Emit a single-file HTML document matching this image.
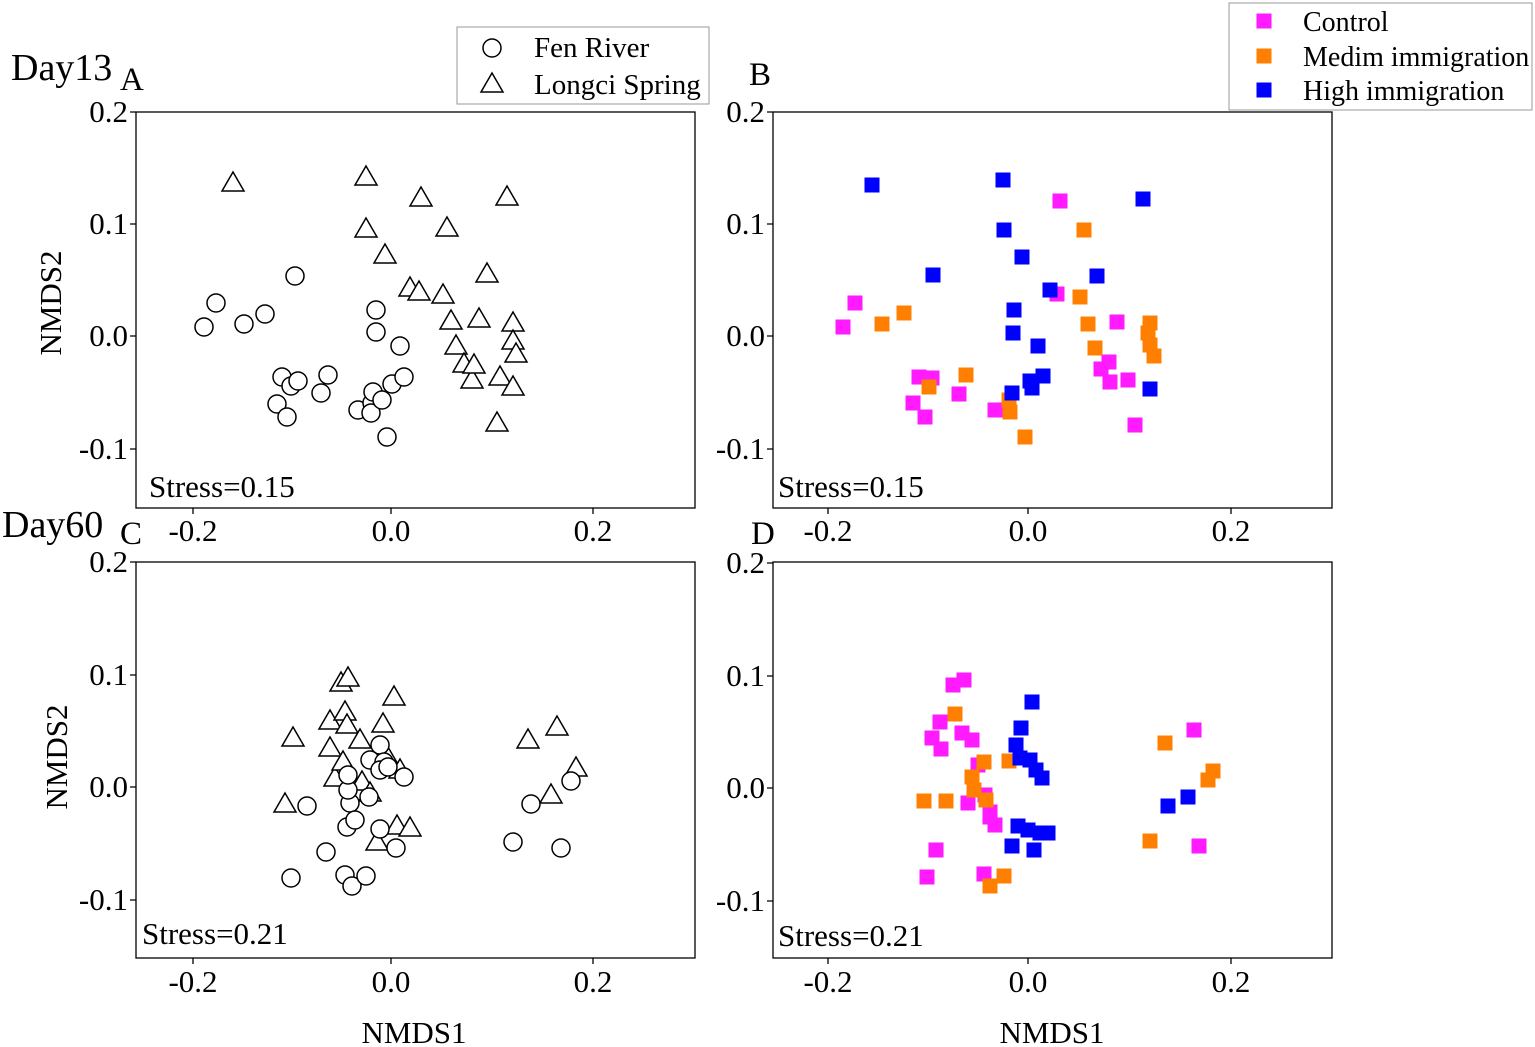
<!DOCTYPE html>
<html><head><meta charset="utf-8"><style>body{margin:0;background:#fff}svg{display:block}text{font-family:"Liberation Serif",serif;fill:#000}</style></head><body>
<svg width="1535" height="1047" viewBox="0 0 1535 1047" xmlns="http://www.w3.org/2000/svg">
<defs>
<circle id="c" r="9" fill="#fff" stroke="#000" stroke-width="1.5"/>
<path id="t" d="M0,-11 L11,8 L-11,8 Z" fill="#fff" stroke="#000" stroke-width="1.5"/>
<rect id="m" x="-7.5" y="-7.5" width="15" height="15" fill="#ff1aff"/>
<rect id="o" x="-7.5" y="-7.5" width="15" height="15" fill="#ff8000"/>
<rect id="b" x="-7.5" y="-7.5" width="15" height="15" fill="#0000ff"/>
</defs>
<g fill="none" stroke="#000" stroke-width="1.3">
<rect x="136" y="112" width="559" height="396"/>
<rect x="773" y="112" width="559" height="396"/>
<rect x="136" y="562" width="559" height="396"/>
<rect x="773" y="562" width="559" height="396"/>
<path d="M130,112H136M130,224H136M130,336H136M130,449H136M193,508V514M391,508V514M593,508V514
M767,112H773M767,224H773M767,336H773M767,449H773M828,508V514M1028,508V514M1231,508V514
M130,562H136M130,675H136M130,787H136M130,900H136M193,958V964M391,958V964M593,958V964
M767,563H773M767,676H773M767,788H773M767,901H773M828,958V964M1028,958V964M1231,958V964"/>
</g>
<g font-size="31" text-anchor="end">
<text x="128" y="122">0.2</text><text x="128" y="234">0.1</text><text x="128" y="346">0.0</text><text x="128" y="459">-0.1</text>
<text x="765" y="122">0.2</text><text x="765" y="234">0.1</text><text x="765" y="346">0.0</text><text x="765" y="459">-0.1</text>
<text x="128" y="572">0.2</text><text x="128" y="685">0.1</text><text x="128" y="797">0.0</text><text x="128" y="910">-0.1</text>
<text x="765" y="573">0.2</text><text x="765" y="686">0.1</text><text x="765" y="798">0.0</text><text x="765" y="911">-0.1</text>
</g>
<g font-size="31" text-anchor="middle">
<text x="193" y="541">-0.2</text><text x="391" y="541">0.0</text><text x="593" y="541">0.2</text>
<text x="828" y="541">-0.2</text><text x="1028" y="541">0.0</text><text x="1231" y="541">0.2</text>
<text x="193" y="992">-0.2</text><text x="391" y="992">0.0</text><text x="593" y="992">0.2</text>
<text x="828" y="992">-0.2</text><text x="1028" y="992">0.0</text><text x="1231" y="992">0.2</text>
<text x="414" y="1043">NMDS1</text><text x="1052" y="1043">NMDS1</text>
<text transform="translate(61,303) rotate(-90)">NMDS2</text>
<text transform="translate(67,757) rotate(-90)">NMDS2</text>
</g>
<g font-size="31">
<text x="149" y="497">Stress=0.15</text><text x="778" y="497">Stress=0.15</text>
<text x="142" y="944">Stress=0.21</text><text x="778" y="946">Stress=0.21</text>
<text x="11" y="80" font-size="38">Day13</text><text x="120" y="90" font-size="33">A</text>
<text x="749" y="85" font-size="33">B</text>
<text x="2" y="537" font-size="38">Day60</text><text x="120" y="544" font-size="33">C</text>
<text x="751" y="544" font-size="33">D</text>
</g>
<rect x="457" y="27" width="252" height="77" fill="#fff" stroke="#999" stroke-width="1"/>
<use href="#c" x="492" y="48"/><use href="#t" x="492" y="84"/>
<text x="534" y="57" font-size="29">Fen River</text><text x="534" y="94" font-size="29">Longci Spring</text>
<rect x="1229" y="3" width="303" height="107" fill="#fff" stroke="#999" stroke-width="1"/>
<use href="#m" x="1264" y="21"/><use href="#o" x="1264" y="56"/><use href="#b" x="1264" y="90"/>
<text x="1303" y="31" font-size="28">Control</text><text x="1303" y="66" font-size="28">Medim immigration</text><text x="1303" y="100" font-size="28">High immigration</text>
<g>
<use href="#c" x="204" y="327"/><use href="#c" x="216" y="303"/><use href="#c" x="244" y="324"/><use href="#c" x="265" y="314"/><use href="#c" x="295" y="276"/><use href="#c" x="282" y="377"/><use href="#c" x="291" y="386"/><use href="#c" x="298" y="381"/><use href="#c" x="328" y="375"/><use href="#c" x="277" y="404"/><use href="#c" x="287" y="417"/><use href="#c" x="321" y="393"/><use href="#c" x="376" y="310"/><use href="#c" x="376" y="332"/><use href="#c" x="358" y="410"/><use href="#c" x="372" y="403"/><use href="#c" x="371" y="413"/><use href="#c" x="373" y="392"/><use href="#c" x="382" y="400"/><use href="#c" x="392" y="384"/><use href="#c" x="404" y="377"/><use href="#c" x="400" y="346"/><use href="#c" x="387" y="437"/>
<use href="#t" x="233" y="183"/><use href="#t" x="366" y="177"/><use href="#t" x="366" y="229"/><use href="#t" x="385" y="255"/><use href="#t" x="421" y="198"/><use href="#t" x="447" y="228"/><use href="#t" x="410" y="288"/><use href="#t" x="419" y="292"/><use href="#t" x="443" y="295"/><use href="#t" x="507" y="197"/><use href="#t" x="487" y="274"/><use href="#t" x="451" y="321"/><use href="#t" x="479" y="319"/><use href="#t" x="513" y="323"/><use href="#t" x="513" y="341"/><use href="#t" x="516" y="354"/><use href="#t" x="456" y="346"/><use href="#t" x="464" y="364"/><use href="#t" x="472" y="380"/><use href="#t" x="500" y="377"/><use href="#t" x="513" y="387"/><use href="#t" x="474" y="365"/><use href="#t" x="497" y="423"/>
</g>
<g>
<use href="#m" x="843" y="327"/><use href="#m" x="855" y="303"/><use href="#m" x="1060" y="201"/><use href="#m" x="1057" y="294"/><use href="#m" x="1117" y="322"/><use href="#m" x="1109" y="362"/><use href="#m" x="1101" y="369"/><use href="#m" x="1110" y="382"/><use href="#m" x="1128" y="380"/><use href="#m" x="1135" y="425"/><use href="#m" x="919" y="377"/><use href="#m" x="932" y="378"/><use href="#m" x="913" y="403"/><use href="#m" x="925" y="417"/><use href="#m" x="959" y="394"/><use href="#m" x="995" y="410"/>
<use href="#o" x="882" y="324"/><use href="#o" x="904" y="313"/><use href="#o" x="1084" y="230"/><use href="#o" x="1080" y="297"/><use href="#o" x="1088" y="324"/><use href="#o" x="1095" y="348"/><use href="#o" x="1150" y="323"/><use href="#o" x="1148" y="333"/><use href="#o" x="1150" y="345"/><use href="#o" x="1154" y="356"/><use href="#o" x="929" y="387"/><use href="#o" x="966" y="375"/><use href="#o" x="1009" y="400"/><use href="#o" x="1010" y="412"/><use href="#o" x="1025" y="437"/>
<use href="#b" x="872" y="185"/><use href="#b" x="1003" y="180"/><use href="#b" x="1004" y="230"/><use href="#b" x="933" y="275"/><use href="#b" x="1022" y="257"/><use href="#b" x="1050" y="290"/><use href="#b" x="1097" y="276"/><use href="#b" x="1143" y="199"/><use href="#b" x="1014" y="310"/><use href="#b" x="1013" y="333"/><use href="#b" x="1038" y="346"/><use href="#b" x="1043" y="376"/><use href="#b" x="1030" y="381"/><use href="#b" x="1032" y="388"/><use href="#b" x="1012" y="393"/><use href="#b" x="1150" y="389"/>
</g>
<g>
<use href="#t" x="293" y="738"/><use href="#t" x="285" y="804"/><use href="#t" x="330" y="721"/><use href="#t" x="330" y="748"/><use href="#t" x="335" y="778"/><use href="#t" x="341" y="683"/><use href="#t" x="348" y="678"/><use href="#t" x="345" y="712"/><use href="#t" x="347" y="725"/><use href="#t" x="360" y="740"/><use href="#t" x="343" y="762"/><use href="#t" x="362" y="782"/><use href="#t" x="370" y="793"/><use href="#t" x="383" y="724"/><use href="#t" x="394" y="697"/><use href="#t" x="397" y="826"/><use href="#t" x="410" y="828"/><use href="#t" x="377" y="842"/><use href="#t" x="388" y="758"/><use href="#t" x="400" y="770"/><use href="#t" x="528" y="740"/><use href="#t" x="557" y="727"/><use href="#t" x="576" y="768"/><use href="#t" x="551" y="795"/>
<use href="#c" x="291" y="878"/><use href="#c" x="307" y="806"/><use href="#c" x="326" y="852"/><use href="#c" x="345" y="875"/><use href="#c" x="352" y="886"/><use href="#c" x="366" y="876"/><use href="#c" x="350" y="803"/><use href="#c" x="348" y="790"/><use href="#c" x="347" y="827"/><use href="#c" x="355" y="820"/><use href="#c" x="369" y="797"/><use href="#c" x="380" y="829"/><use href="#c" x="380" y="745"/><use href="#c" x="370" y="760"/><use href="#c" x="384" y="762"/><use href="#c" x="380" y="770"/><use href="#c" x="396" y="848"/><use href="#c" x="404" y="777"/><use href="#c" x="513" y="842"/><use href="#c" x="531" y="804"/><use href="#c" x="561" y="848"/><use href="#c" x="571" y="781"/><use href="#c" x="348" y="775"/><use href="#c" x="388" y="767"/>
</g>
<g>
<use href="#m" x="927" y="877"/><use href="#m" x="932" y="738"/><use href="#m" x="936" y="850"/><use href="#m" x="940" y="722"/><use href="#m" x="941" y="749"/><use href="#m" x="953" y="685"/><use href="#m" x="964" y="680"/><use href="#m" x="962" y="733"/><use href="#m" x="972" y="740"/><use href="#m" x="978" y="765"/><use href="#m" x="985" y="795"/><use href="#m" x="990" y="817"/><use href="#m" x="995" y="825"/><use href="#m" x="984" y="874"/><use href="#m" x="1194" y="730"/><use href="#m" x="1199" y="846"/><use href="#m" x="968" y="803"/><use href="#m" x="990" y="812"/>
<use href="#o" x="924" y="801"/><use href="#o" x="946" y="801"/><use href="#o" x="955" y="714"/><use href="#o" x="972" y="777"/><use href="#o" x="974" y="790"/><use href="#o" x="984" y="762"/><use href="#o" x="986" y="800"/><use href="#o" x="1009" y="761"/><use href="#o" x="990" y="886"/><use href="#o" x="1004" y="876"/><use href="#o" x="1165" y="743"/><use href="#o" x="1150" y="841"/><use href="#o" x="1208" y="780"/><use href="#o" x="1213" y="771"/>
<use href="#b" x="1032" y="702"/><use href="#b" x="1021" y="728"/><use href="#b" x="1016" y="745"/><use href="#b" x="1020" y="758"/><use href="#b" x="1030" y="760"/><use href="#b" x="1036" y="770"/><use href="#b" x="1042" y="778"/><use href="#b" x="1018" y="826"/><use href="#b" x="1028" y="830"/><use href="#b" x="1040" y="833"/><use href="#b" x="1048" y="833"/><use href="#b" x="1034" y="850"/><use href="#b" x="1012" y="846"/><use href="#b" x="1168" y="806"/><use href="#b" x="1188" y="797"/>
</g>
</svg>
</body></html>
